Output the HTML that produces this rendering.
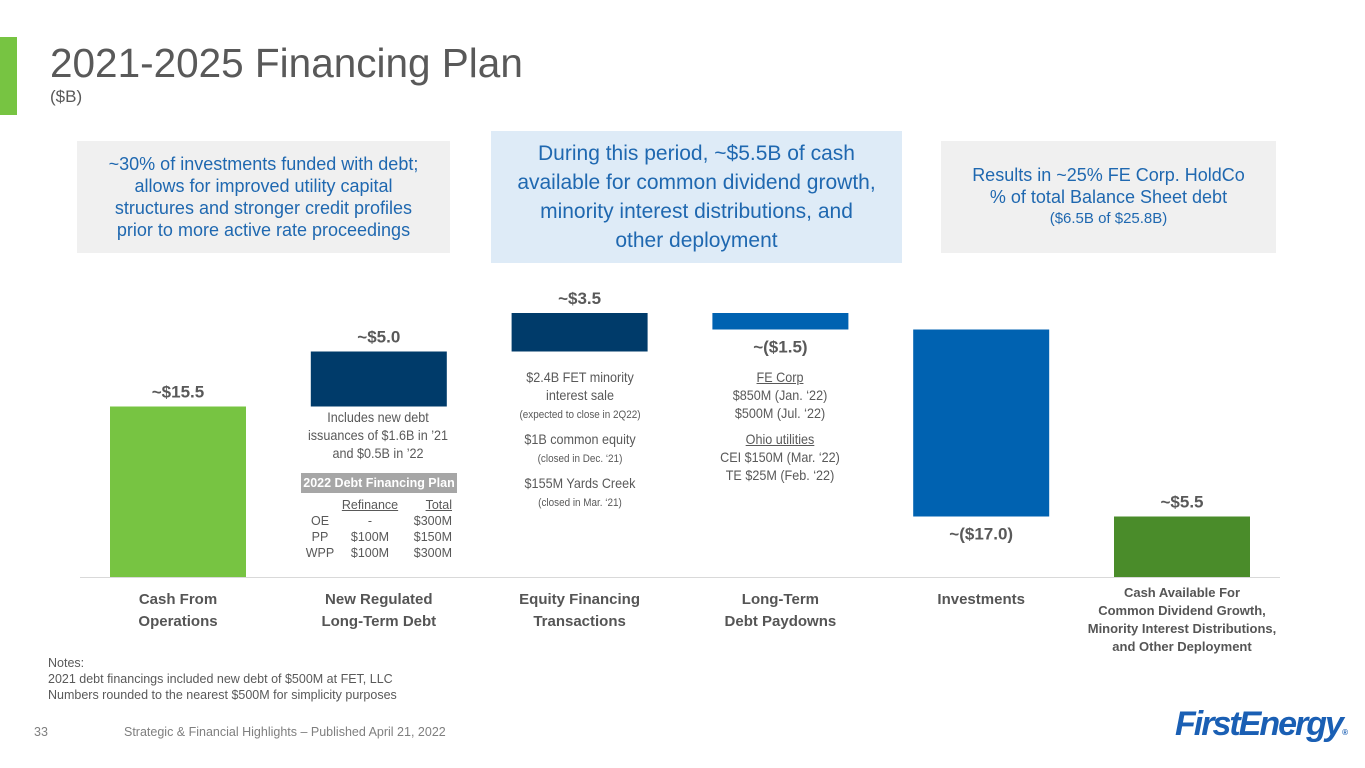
<!DOCTYPE html>
<html><head><meta charset="utf-8"><style>
body{margin:0;width:1365px;height:768px;background:#fff;font-family:"Liberation Sans",Arial,sans-serif;position:relative;overflow:hidden;color:#555}
.a{position:absolute}
.box{position:absolute;background:#f0f0f0;text-align:center;font-size:18px;line-height:22px;color:#1f68b0;display:flex;align-items:center;justify-content:center;box-sizing:border-box}
.note{position:absolute;text-align:center;font-size:14px;line-height:18px;color:#595959;transform:scaleX(.9)}
.small{font-size:11px}
.cat{position:absolute;text-align:center;font-weight:bold;font-size:15px;line-height:22px;color:#555;width:240px}
u{text-decoration:underline}
</style></head><body>
<div class="a" style="left:0;top:37px;width:17px;height:78px;background:#77c442"></div>
<div class="a" style="left:50px;top:40px;font-size:40.5px;color:#595959">2021-2025 Financing Plan</div>
<div class="a" style="left:50px;top:87px;font-size:17px;color:#595959">($B)</div>
<div class="box" style="left:77px;top:141px;width:373px;height:112px;padding:0 18px">~30% of investments funded with debt; allows for improved utility capital structures and stronger credit profiles prior to more active rate proceedings</div>
<div class="box" style="left:491px;top:131px;width:411px;height:132px;background:#deebf7;font-size:21px;line-height:29px;padding:0 4px">During this period, ~$5.5B of cash<br>available for common dividend growth,<br>minority interest distributions, and<br>other deployment</div>
<div class="box" style="left:941px;top:141px;width:335px;height:112px;flex-direction:column">Results in ~25% FE Corp. HoldCo<br>% of total Balance Sheet debt<span style="font-size:15px">($6.5B of $25.8B)</span></div>
<svg class="a" id="chart" style="left:0;top:0" width="1365" height="768"></svg>
<div class="note" style="left:290px;top:408px;width:176px">Includes new debt issuances of $1.6B in ’21 and $0.5B in ’22</div>
<div class="a" style="left:301px;top:473px;width:156px;height:20px;background:#a6a6a6;color:#fff;font-weight:bold;font-size:12.5px;line-height:20px;text-align:center">2022 Debt Financing Plan</div>
<div class="a" style="left:300px;top:497px;font-size:12.5px;line-height:16px;color:#595959">
<div style="display:flex"><span style="width:40px"></span><span style="width:60px;text-align:center"><u>Refinance</u></span><span style="width:52px;text-align:right"><u>Total</u></span></div>
<div style="display:flex"><span style="width:40px;text-align:center">OE</span><span style="width:60px;text-align:center">-</span><span style="width:52px;text-align:right">$300M</span></div>
<div style="display:flex"><span style="width:40px;text-align:center">PP</span><span style="width:60px;text-align:center">$100M</span><span style="width:52px;text-align:right">$150M</span></div>
<div style="display:flex"><span style="width:40px;text-align:center">WPP</span><span style="width:60px;text-align:center">$100M</span><span style="width:52px;text-align:right">$300M</span></div>
</div>
<div class="note" style="left:500px;top:368px;width:160px">$2.4B FET minority interest sale<br><span class="small">(expected to close in 2Q22)</span><div style="height:6px"></div>$1B common equity<br><span class="small">(closed in Dec. ‘21)</span><div style="height:6px"></div>$155M Yards Creek<br><span class="small">(closed in Mar. ‘21)</span></div>
<div class="note" style="left:690px;top:368px;width:180px"><u>FE Corp</u><br>$850M (Jan. ‘22)<br>$500M (Jul. ‘22)<div style="height:8px"></div><u>Ohio utilities</u><br>CEI $150M (Mar. ‘22)<br>TE $25M (Feb. ‘22)</div>
<div class="a" style="left:80px;top:577px;width:1200px;height:1px;background:#d9d9d9"></div>
<div id="cats"></div>
<div class="a" style="left:48px;top:655px;font-size:12.5px;line-height:16px;color:#595959">Notes:<br>2021 debt financings included new debt of $500M at FET, LLC<br>Numbers rounded to the nearest $500M for simplicity purposes</div>
<div class="a" style="left:34px;top:725px;font-size:12.5px;color:#7f7f7f">33</div>
<div class="a" style="left:124px;top:725px;font-size:12.5px;color:#7f7f7f">Strategic &amp; Financial Highlights – Published April 21, 2022</div>
<div class="a" style="left:1175px;top:705px;font-size:34px;font-weight:bold;font-style:italic;color:#1a5fb4;letter-spacing:-2px">FirstEnergy<span style="font-size:8px;letter-spacing:0">®</span></div>
<script>
const categories=["Cash From\nOperations","New Regulated\nLong-Term Debt","Equity Financing\nTransactions","Long-Term\nDebt Paydowns","Investments","Cash Available For\nCommon Dividend Growth,\nMinority Interest Distributions,\nand Other Deployment"];
const values=[15.5,5.0,3.5,-1.5,-17.0,5.5];
const labels=["~$15.5","~$5.0","~$3.5","~($1.5)","~($17.0)","~$5.5"];
const isTotal=[true,false,false,false,false,true];
const colors=["#77c442","#003b6a","#003b6a","#0062b1","#0062b1","#4a8c2a"];
const base=577,k=11,x0=178,step=200.8,bw=136;
const y=v=>base-v*k;
const svg=document.getElementById('chart');const ns="http://www.w3.org/2000/svg";
let cum=0;
values.forEach((v,i)=>{
  let a,b;
  if(isTotal[i]){a=0;b=v;cum=v;}else{a=cum;b=cum+v;cum=b;}
  const top=y(Math.max(a,b)),bot=y(Math.min(a,b));
  const cx=x0+i*step;
  const r=document.createElementNS(ns,'rect');
  
  
  r.setAttribute('x',cx-bw/2);r.setAttribute('y',top);r.setAttribute('width',bw);r.setAttribute('height',bot-top);r.setAttribute('fill',colors[i]);
  svg.appendChild(r);
  const t=document.createElementNS(ns,'text');
  
  
  t.setAttribute('x',cx);t.setAttribute('text-anchor','middle');
  t.setAttribute('y',v<0?bot+23:top-9);
  t.setAttribute('font-size','17');t.setAttribute('font-weight','bold');t.setAttribute('fill','#595959');t.setAttribute('font-family','Liberation Sans, sans-serif');
  t.textContent=labels[i];svg.appendChild(t);
  const d=document.createElement('div');
  d.className='cat';
  
  
  d.style.left=(cx-120)+'px';d.style.top='589px';
  if(i==5){d.style.fontSize='13px';d.style.lineHeight='18px';d.style.top='584px';}
  d.innerHTML=categories[i].replace(/\n/g,'<br>');
  document.getElementById('cats').appendChild(d);
});
</script>
</body></html>
